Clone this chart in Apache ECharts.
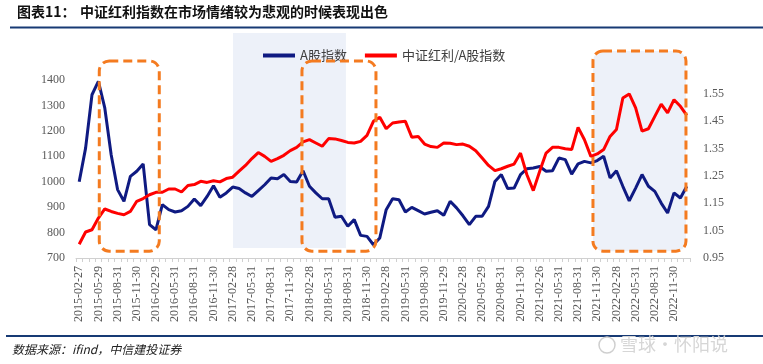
<!DOCTYPE html>
<html>
<head>
<meta charset="utf-8">
<script src="https://cdn.jsdelivr.net/npm/echarts@6/dist/echarts.min.js"></script>
<style>
html,body{margin:0;padding:0;background:#fff;}
#c{width:763px;height:364px;}
</style>
</head>
<body>
<div id="c"></div>
<script>
// ---- data ----
var dates = [
'2015-02-27','2015-03-31','2015-04-30','2015-05-29','2015-06-30','2015-07-31','2015-08-31','2015-09-30','2015-10-30','2015-11-30','2015-12-31',
'2016-01-29','2016-02-29','2016-03-31','2016-04-29','2016-05-31','2016-06-30','2016-07-29','2016-08-31','2016-09-30','2016-10-31','2016-11-30','2016-12-30',
'2017-01-26','2017-02-28','2017-03-31','2017-04-28','2017-05-31','2017-06-30','2017-07-31','2017-08-31','2017-09-29','2017-10-31','2017-11-30','2017-12-29',
'2018-01-31','2018-02-28','2018-03-30','2018-04-27','2018-05-31','2018-06-29','2018-07-31','2018-08-31','2018-09-28','2018-10-31','2018-11-30','2018-12-28',
'2019-01-31','2019-02-28','2019-03-29','2019-04-30','2019-05-31','2019-06-28','2019-07-31','2019-08-30','2019-09-30','2019-10-31','2019-11-29','2019-12-31',
'2020-01-23','2020-02-28','2020-03-31','2020-04-30','2020-05-29','2020-06-30','2020-07-31','2020-08-31','2020-09-30','2020-10-30','2020-11-30','2020-12-31',
'2021-01-29','2021-02-26','2021-03-31','2021-04-30','2021-05-31','2021-06-30','2021-07-30','2021-08-31','2021-09-30','2021-10-29','2021-11-30','2021-12-31',
'2022-01-28','2022-02-28','2022-03-31','2022-04-29','2022-05-31','2022-06-30','2022-07-29','2022-08-31','2022-09-30','2022-10-31','2022-11-30','2022-12-30',
'2023-01-31'
];
var aShareIndex = [
1000,1132,1342,1395,1290,1106,969,923,1021,1041,1070,
831,811,910,890,881,886,903,932,906,942,984,939,
956,979,973,956,942,965,988,1015,1012,1028,1001,999,
1043,982,956,933,933,860,864,825,851,789,785,752,
779,890,933,929,881,899,886,873,880,886,868,923,
897,866,831,864,864,903,1001,1028,973,975,1028,1051,
1054,1060,1041,1043,1093,1087,1030,1070,1080,1074,1083,1100,
1015,1043,982,925,975,1028,982,962,916,877,956,936,
982
];
var dividendRatio = [
1.000,1.045,1.053,1.096,1.129,1.120,1.113,1.108,1.120,1.157,1.167,
1.181,1.190,1.190,1.202,1.202,1.191,1.215,1.218,1.230,1.226,1.232,1.228,
1.240,1.245,1.267,1.288,1.313,1.335,1.321,1.303,1.313,1.325,1.342,1.354,
1.374,1.382,1.370,1.358,1.386,1.385,1.379,1.372,1.370,1.376,1.398,1.449,
1.464,1.422,1.443,1.447,1.449,1.391,1.394,1.366,1.357,1.354,1.370,1.369,
1.364,1.366,1.358,1.342,1.315,1.288,1.269,1.276,1.285,1.293,1.333,1.254,
1.196,1.267,1.333,1.354,1.354,1.349,1.346,1.427,1.382,1.321,1.330,1.346,
1.394,1.419,1.534,1.549,1.498,1.413,1.422,1.467,1.512,1.480,1.528,1.504,
1.471
];
var seriesNames = ['A股指数', '中证红利/A股指数'];
var leftTicks = {min: 700, max: 1400, interval: 100};
var rightTicks = {min: 0.95, max: 1.6, interval: 0.1};

// annotation ranges: category index (fractional) and left-axis value extents
var shadeRanges = [
  {i0: 24.05, i1: 41.7, v0: 739, v1: 1585}
];
var boxRanges = [
  {i0: 3.14, i1: 12.52, v0: 727, v1: 1475, fill: false},
  {i0: 34.83, i1: 46.4, v0: 727, v1: 1475, fill: false},
  {i0: 80.33, i1: 94.87, v0: 727, v1: 1514, fill: true}
];

var chart = echarts.init(document.getElementById('c'), null, {renderer: 'canvas'});
var serif = 'Liberation Serif';
var cjk = 'Noto Sans CJK SC';

var option = {
  animation: false,
  backgroundColor: '#fff',
  grid: {left: 76, right: 73, top: 80, bottom: 106, containLabel: false},
  legend: {
    data: seriesNames,
    left: 258, top: 44,
    icon: 'rect', itemWidth: 32, itemHeight: 4, itemGap: 18,
    textStyle: {fontFamily: cjk, fontSize: 13, color: '#404040'}
  },
  xAxis: {
    type: 'category',
    data: dates,
    boundaryGap: true,
    axisLine: {show: true, lineStyle: {color: '#d0d0d0', width: 1}},
    axisTick: {show: true, interval: 0, length: 4, lineStyle: {color: '#d0d0d0'}},
    axisLabel: {interval: 2, rotate: 90, margin: 8, fontFamily: serif, fontSize: 12, color: '#595959'},
    splitLine: {show: false}
  },
  yAxis: [
    {
      type: 'value', min: leftTicks.min, max: leftTicks.max, interval: leftTicks.interval,
      axisLine: {show: false}, axisTick: {show: false}, splitLine: {show: false},
      axisLabel: {margin: 11, fontFamily: serif, fontSize: 12, color: '#595959',
        formatter: function (v) { return String(Math.round(v)); }}
    },
    {
      type: 'value', min: rightTicks.min, max: rightTicks.max, interval: rightTicks.interval,
      axisLine: {show: false}, axisTick: {show: false}, splitLine: {show: false},
      axisLabel: {margin: 13, fontFamily: serif, fontSize: 12, color: '#595959', showMaxLabel: false,
        formatter: function (v) { return (Math.round(v * 100) / 100).toFixed(2); }}
    }
  ],
  series: [
    {
      name: seriesNames[0], type: 'line', data: aShareIndex, yAxisIndex: 0,
      symbol: 'none', lineStyle: {color: '#0f1a82', width: 3}, itemStyle: {color: '#0f1a82'}, z: 3
    },
    {
      name: seriesNames[1], type: 'line', data: dividendRatio, yAxisIndex: 1,
      symbol: 'none', lineStyle: {color: '#ff0000', width: 3}, itemStyle: {color: '#ff0000'}, z: 4
    }
  ]
};
chart.setOption(option);

// build annotation graphics from axis conversions
var xa = chart.convertToPixel({xAxisIndex: 0}, 0);
var xb = chart.convertToPixel({xAxisIndex: 0}, 1);
function px(f) { return xa + f * (xb - xa); }
function py(v) { return chart.convertToPixel({yAxisIndex: 0}, v); }

var graphics = [];
shadeRanges.forEach(function (s) {
  var x0 = px(s.i0), x1 = px(s.i1), y0 = py(s.v1), y1 = py(s.v0);
  graphics.push({type: 'rect', z: 0, shape: {x: x0, y: y0, width: x1 - x0, height: y1 - y0},
    style: {fill: '#edf1f9'}});
});
boxRanges.forEach(function (b) {
  var x0 = px(b.i0), x1 = px(b.i1), y0 = py(b.v1), y1 = py(b.v0);
  if (b.fill) {
    graphics.push({type: 'rect', z: 0, shape: {x: x0, y: y0, width: x1 - x0, height: y1 - y0, r: 10},
      style: {fill: '#edf1f9'}});
  }
  graphics.push({type: 'rect', z: 100, shape: {x: x0, y: y0, width: x1 - x0, height: y1 - y0, r: 10},
    style: {fill: 'none', stroke: '#f47b20', lineWidth: 3, lineDash: [9, 5]}});
});
// header & footer
graphics.push({type: 'text', z: 100, left: 17, top: 5,
  style: {text: '图表11：', font: 'bold 14px "Noto Sans CJK SC"', fill: '#111'}});
graphics.push({type: 'text', z: 100, left: 80, top: 5,
  style: {text: '中证红利指数在市场情绪较为悲观的时候表现出色', font: 'bold 14px "Noto Sans CJK SC"', fill: '#111'}});
graphics.push({type: 'line', z: 100, shape: {x1: 10, y1: 27.5, x2: 763, y2: 27.5},
  style: {stroke: '#173a74', lineWidth: 2}});
graphics.push({type: 'line', z: 100, shape: {x1: 6, y1: 336, x2: 763, y2: 336},
  style: {stroke: '#173a74', lineWidth: 2}});
graphics.push({type: 'text', z: 100, left: 12, top: 343,
  style: {text: '数据来源：ifind，中信建投证券', font: 'italic 12px "Noto Sans CJK SC"', fill: '#222'}});
graphics.push({type: 'circle', z: 100, shape: {cx: 607, cy: 345, r: 8},
  style: {fill: 'none', stroke: '#cfcfcf', lineWidth: 1.5}});
graphics.push({type: 'text', z: 100, left: 620, top: 335,
  style: {text: '雪球·怀阳说', font: '18px "Noto Sans CJK SC"', fill: '#d6d6d6'}});

chart.setOption({graphic: graphics});
</script>
</body>
</html>
